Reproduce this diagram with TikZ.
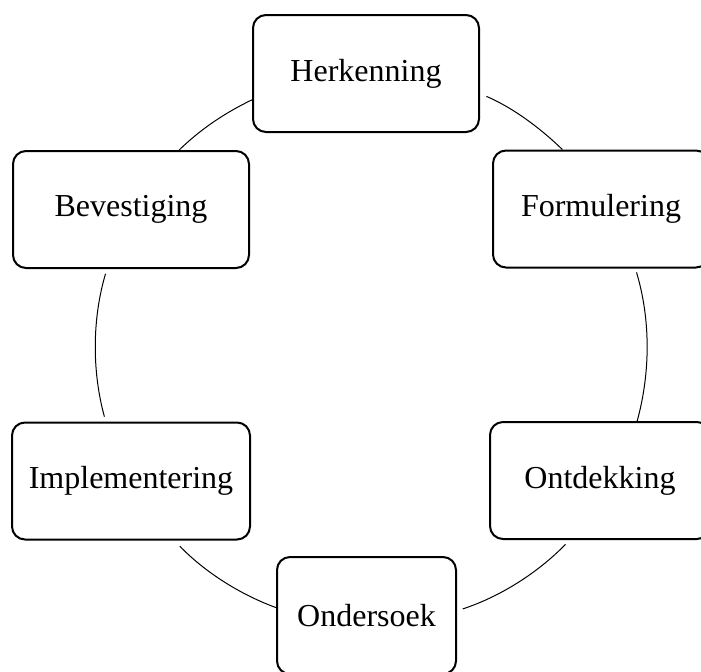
\documentclass[tikz,border=0pt]{standalone}
\usepackage{fontspec}
\setmainfont{Liberation Serif}
\usepackage{tikz}

\begin{document}
\begin{tikzpicture}[x=0.5pt,y=-0.5pt]
  \tikzstyle{cstage}=[draw=black,line width=1pt,rounded corners=6.5pt,minimum height=58.5pt,
    align=center,font=\fontsize{16}{19}\selectfont]
  \tikzstyle{cline}=[line width=0.5pt,looseness=0.87]
  \useasboundingbox (0,0) rectangle (701,671);
  \clip (0,0) rectangle (701,671);
  \node[cstage,minimum width=113pt] (her) at (366,73.5) {Herkenning};
  \node[cstage,minimum width=108pt] (for) at (601,209) {Formulering};
  \node[cstage,minimum width=110pt] (ont) at (600,480.5) {Ontdekking};
  \node[cstage,minimum width=89.5pt] (ond) at (366.5,615.5) {Ondersoek};
  \node[cstage,minimum width=119pt] (imp) at (131,481) {Implementering};
  \node[cstage,minimum width=118pt] (bev) at (131,209.5) {Bevestiging};
  % arcs of one circle round the cycle
  \draw[cline,shorten <=3.5pt] (her.-10) to[out=-23.2,in=136] (for.123);
  \draw[cline,shorten <=2pt] (for.-60) to[out=-73.3,in=74.7] (ont.58);
  \draw[cline,shorten <=3pt,shorten >=3pt] (ont.-117) to[out=-134.1,in=18] (ond.3);
  \draw[cline,shorten >=4pt] (ond.175) to[out=159.8,in=-45.8] (imp.-54);
  \draw[cline,shorten <=2.5pt,shorten >=2.5pt] (imp.113) to[out=105.4,in=-106.6] (bev.-112);
  \draw[cline] (bev.51) to[out=44.2,in=205.7] (her.-167);
\end{tikzpicture}
\end{document}
